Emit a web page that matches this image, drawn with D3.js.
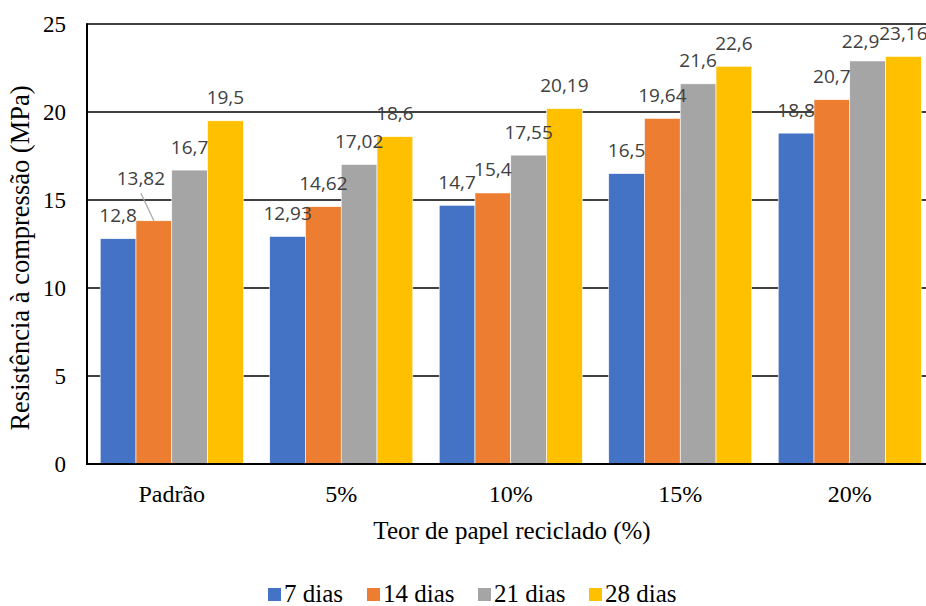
<!DOCTYPE html>
<html>
<head>
<meta charset="utf-8">
<script src="https://cdn.jsdelivr.net/npm/d3@7"></script>
<style>
  html, body { margin: 0; padding: 0; background: #fff; overflow: hidden; }
  svg { display: block; }
</style>
</head>
<body>
<svg id="chart" width="926" height="606"></svg>
<script>
// Compressive strength by recycled paper content and curing age
const categories = ["Padrão", "5%", "10%", "15%", "20%"];
const seriesNames = ["7 dias", "14 dias", "21 dias", "28 dias"];
const dias7  = [12.8, 12.93, 14.7, 16.5, 18.8];
const dias14 = [13.82, 14.62, 15.4, 19.64, 20.7];
const dias21 = [16.7, 17.02, 17.55, 21.6, 22.9];
const dias28 = [19.5, 18.6, 20.19, 22.6, 23.16];
const yTicks = [0, 5, 10, 15, 20, 25];
const seriesColors = ["#4472C4", "#ED7D31", "#A5A5A5", "#FFC000"];

const seriesValues = [dias7, dias14, dias21, dias28];

// Manual nudges for data labels that would otherwise collide
const labelNudge = {
  "Padrão|14 dias": { dx: -13, dy: -19, leader: true },
  "20%|21 dias": { dx: -7, dy: 4 }
};

const SERIF = '"Liberation Serif"';
const SANS = '"Open Sans"';

const svg = d3.select("#chart");
const plotLeft = 87, plotTop = 24, plotBottom = 464, plotRight = 934.5;

const x0 = d3.scaleBand()
  .domain(categories)
  .range([plotLeft, plotRight])
  .paddingInner(0.156)
  .paddingOuter(0.078);

const x1 = d3.scaleBand()
  .domain(seriesNames)
  .range([0, x0.bandwidth()]);

const y = d3.scaleLinear().domain([0, 25]).range([plotBottom, plotTop]);

// Horizontal gridlines
svg.append("g")
  .selectAll("line")
  .data(yTicks.filter(t => t > 0))
  .join("line")
  .attr("x1", plotLeft).attr("x2", 926)
  .attr("y1", d => y(d)).attr("y2", d => y(d))
  .attr("stroke", "#000").attr("stroke-width", 1.5);

// Y axis
const yAxis = svg.append("g")
  .attr("transform", `translate(${plotLeft},0)`)
  .call(d3.axisLeft(y).tickValues(yTicks).tickSize(0).tickPadding(21).tickFormat(d3.format("d")));
yAxis.select(".domain").remove();
yAxis.selectAll("text")
  .style("font-family", SERIF).style("font-size", "23px").attr("fill", "#000");

// X axis labels
const xAxis = svg.append("g")
  .attr("transform", `translate(0,${plotBottom})`)
  .call(d3.axisBottom(x0).tickSize(0).tickPadding(21));
xAxis.select(".domain").remove();
xAxis.selectAll("text")
  .style("font-family", SERIF).style("font-size", "24px").attr("fill", "#000");

// Bars
const rows = categories.map((c, i) => ({
  cat: c,
  vals: seriesNames.map((s, j) => ({ cat: c, name: s, j, v: seriesValues[j][i] }))
}));

const groups = svg.append("g")
  .selectAll("g")
  .data(rows)
  .join("g")
  .attr("transform", d => `translate(${x0(d.cat)},0)`);

groups.selectAll("rect")
  .data(d => d.vals)
  .join("rect")
  .attr("x", d => x1(d.name))
  .attr("width", x1.bandwidth())
  .attr("y", d => y(d.v))
  .attr("height", d => y(0) - y(d.v))
  .attr("fill", d => seriesColors[d.j])
  .attr("stroke", "#fff")
  .attr("stroke-width", 0.6);

// Axis lines
svg.append("line")
  .attr("x1", plotLeft).attr("x2", plotLeft)
  .attr("y1", plotTop - 0.75).attr("y2", plotBottom + 1)
  .attr("stroke", "#000").attr("stroke-width", 2);
svg.append("line")
  .attr("x1", plotLeft - 1).attr("x2", 926)
  .attr("y1", plotBottom).attr("y2", plotBottom)
  .attr("stroke", "#000").attr("stroke-width", 2);

// Data labels
const labels = svg.append("g");
rows.forEach(r => {
  r.vals.forEach(d => {
    const cx = x0(d.cat) + x1(d.name) + x1.bandwidth() / 2;
    const by = y(d.v) - 16.5;
    const n = labelNudge[d.cat + "|" + d.name] || { dx: 0, dy: 0 };
    const lx = cx + n.dx, ly = by + n.dy;
    if (n.leader) {
      labels.append("line")
        .attr("x1", lx).attr("y1", ly + 8)
        .attr("x2", cx).attr("y2", y(d.v))
        .attr("stroke", "#A6A6A6").attr("stroke-width", 1.2);
    }
    labels.append("text")
      .attr("x", lx).attr("y", ly)
      .attr("text-anchor", "middle")
      .style("font-family", SANS).style("font-size", "19px")
      .attr("fill", "#404040")
      .text(String(d.v).replace(".", ","));
  });
});

// Axis titles
svg.append("text")
  .attr("x", 512).attr("y", 539)
  .attr("text-anchor", "middle")
  .style("font-family", SERIF).style("font-size", "25px")
  .text("Teor de papel reciclado (%)");

svg.append("text")
  .attr("transform", "translate(28.5,258) rotate(-90)")
  .attr("text-anchor", "middle")
  .style("font-family", SERIF).style("font-size", "26.5px")
  .text("Resistência à compressão (MPa)");

// Legend
const legendX = [268, 367, 478, 589];
const legend = svg.append("g")
  .selectAll("g")
  .data(seriesNames)
  .join("g")
  .attr("transform", (d, i) => `translate(${legendX[i]},0)`);
legend.append("rect")
  .attr("x", 0).attr("y", 588).attr("width", 13).attr("height", 13)
  .attr("fill", (d, i) => seriesColors[i]);
legend.append("text")
  .attr("x", 16).attr("y", 602)
  .style("font-family", SERIF).style("font-size", "25px")
  .text(d => d);
</script>
</body>
</html>
